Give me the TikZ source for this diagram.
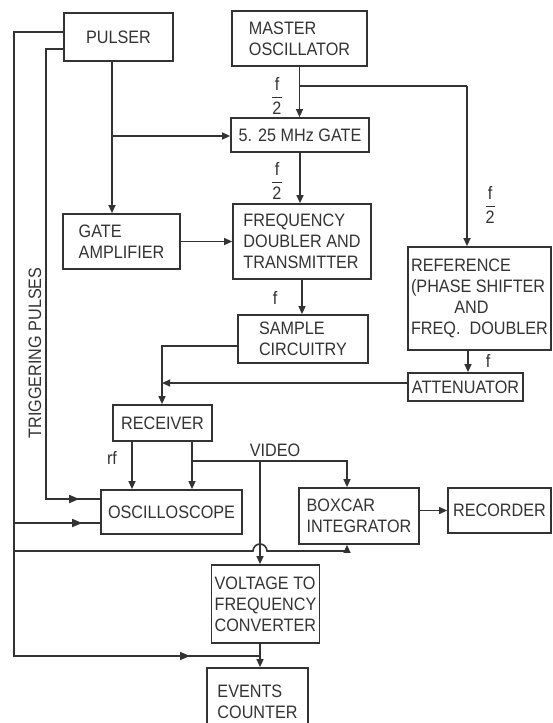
\documentclass[tikz,border=0pt]{standalone}
\usepackage{amsmath}
\usepackage{fontspec}
\setmainfont{Liberation Sans}[FakeStretch=0.9]
\usetikzlibrary{arrows.meta,decorations.markings}

\tikzset{tipat/.style={postaction={decorate},decoration={markings,
    mark=at position #1 with {\arrow{Triangle[length=5pt,width=4pt]}}}}}

\begin{document}
\begin{tikzpicture}[x=0.5pt,y=-0.5pt,line width=0.8pt,color=black!80]
    \tikzstyle{every node}+=[font=\fontsize{9}{10.5}\selectfont]
    \tikzstyle{blk}=[draw,align=left,inner sep=1pt]
    \tikzstyle{lbl}=[inner sep=0pt]
    \tikzstyle{arr}=[-{Triangle[length=4pt,width=3.4pt]}]
    \clip (0,0) rectangle (552,723);
    % blocks
    \node [blk,minimum width=54.5pt,minimum height=24pt] (pulser) at (118.5,37) {PULSER};
    \node [blk,minimum width=67.5pt,minimum height=27.5pt] (master) at (299.5,38.5) {MASTER\\OSCILLATOR};
    \node [blk,minimum width=69pt,minimum height=17pt] (gate) at (300,135) {5. 25 MHz GATE};
    \node [blk,minimum width=58.5pt,minimum height=27.5pt] (gateamp) at (121.5,241.5) {GATE\\AMPLIFIER};
    \node [blk,minimum width=69pt,minimum height=37.5pt] (doubler) at (302,241.5) {FREQUENCY\\DOUBLER AND\\TRANSMITTER};
    \node [blk,minimum width=65pt,minimum height=24pt] (sample) at (303,339) {SAMPLE\\CIRCUITRY};
    \node [blk,minimum width=71.5pt,minimum height=51.5pt] (ref) at (479.5,298.5) {REFERENCE\\(PHASE SHIFTER\\\hspace*{2.4em}AND\\FREQ.\ \ DOUBLER};
    \node [blk,minimum width=57.5pt,minimum height=14pt] (atten) at (465.5,387) {ATTENUATOR};
    \node [blk,minimum width=49.5pt,minimum height=18pt] (receiver) at (162.5,423) {RECEIVER};
    \node [blk,minimum width=70.5pt,minimum height=22pt] (osc) at (171.5,512) {OSCILLOSCOPE};
    \node [blk,minimum width=60pt,minimum height=28pt] (boxcar) at (359,516) {BOXCAR\\INTEGRATOR};
    \node [blk,minimum width=51.5pt,minimum height=22.5pt] (recorder) at (499.5,510.5) {RECORDER};
    \node [blk,minimum width=54pt,minimum height=39pt] (vfc) at (265.5,604) {VOLTAGE TO\\FREQUENCY\\CONVERTER};
    \node [blk,minimum width=50.5pt,minimum height=33.5pt] (counter) at (257.5,701.5) {EVENTS\\COUNTER};
    % labels
    \node [lbl] (f1) at (277,96) {$\dfrac{\text{f}}{\text{2}}$};
    \node [lbl] (f2) at (277,181) {$\dfrac{\text{f}}{\text{2}}$};
    \node [lbl] (f3) at (490,205) {$\dfrac{\text{f}}{\text{2}}$};
    \node [lbl] (f4) at (275,298) {f};
    \node [lbl] (f5) at (488,361) {f};
    \node [lbl] (rflbl) at (112,458) {rf};
    \node [lbl] (video) at (275,450) {VIDEO};
    \node [lbl,rotate=90] (trig) at (35,353) {TRIGGERING PULSES};
    % corner points
    \coordinate (mtap) at (300,86);
    \coordinate (xref) at (467,86);
    \coordinate (xatt) at (468,350);
    \coordinate (xp) at (112,136);
    \coordinate (xrx) at (162,346);
    \coordinate (atap) at (162,383);
    \coordinate (rf) at (132,441);
    \coordinate (vd) at (192,461);
    \coordinate (vbox) at (347,461);
    \coordinate (vvfc) at (260,461);
    \coordinate (t1) at (14,32);
    \coordinate (t2) at (46,49);
    \coordinate (t2b) at (46,499);
    \coordinate (t1o) at (14,523);
    \coordinate (t1h) at (14,551);
    \coordinate (hop) at (253,551);
    \coordinate (t1b) at (14,656);
    % signal path
    \draw [arr] (master.south) -- (master.south |- gate.north);
    \draw (mtap) -- (xref);
    \draw [arr] (xref) -- (xref |- ref.north);
    \draw [arr] (gate.south) -- (gate.south |- doubler.north);
    \draw [arr] (xp |- pulser.south) -- (xp |- gateamp.north);
    \draw [arr] (xp) -- (xp -| gate.west);
    \draw [arr] (gateamp.east) -- (gateamp.east -| doubler.west);
    \draw [arr] (doubler.south) -- (doubler.south |- sample.north);
    \draw [arr] (xatt) -- (xatt |- atten.north);
    \draw [arr] (sample.west |- xrx) -- (xrx) -- (xrx |- receiver.north);
    \draw [arr] (atap -| atten.west) -- (atap);
    \draw [arr] (rf |- receiver.south) -- (rf |- osc.north);
    \draw [arr] (vd |- receiver.south) -- (vd |- osc.north);
    \draw [arr] (vd) -- (vbox) -- (vbox |- boxcar.north);
    \draw [arr] (vvfc) -- (vvfc |- vfc.north);
    \draw [arr] (boxcar.east |- recorder) -- (recorder.west);
    \draw [arr] (vvfc |- vfc.south) -- (vvfc |- counter.north);
    % triggering pulses
    \draw [tipat=-10.5pt] (pulser.west |- t2) -- (t2) -- (t2b) -- (t2b -| osc.west);
    \draw [tipat=-35pt] (pulser.west |- t1) -- (t1) -- (t1b) -- (t1b -| vvfc);
    \draw [tipat=-9pt] (t1o) -- (t1o -| osc.west);
    \draw [arr] (t1h) -- (hop) arc [start angle=180,end angle=0,radius=3.5pt] -- (vbox |- t1h) -- (vbox |- boxcar.south);
\end{tikzpicture}
\end{document}
